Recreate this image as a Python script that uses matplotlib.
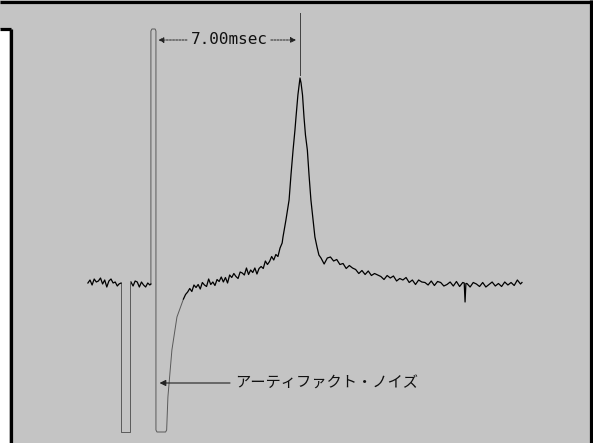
import matplotlib
matplotlib.use("Agg")
import matplotlib.pyplot as plt
from matplotlib.lines import Line2D
from matplotlib.patches import Rectangle

# ---------------- data (time in ms, signal in arbitrary units) ----------------
pre_t = [-3.10, -3.00, -2.90, -2.80, -2.70, -2.60, -2.50, -2.40, -2.30, -2.20,
         -2.10, -2.00, -1.90, -1.80, -1.70, -1.62, -1.52]
pre_v = [0.0, 0.3, -0.2, 0.4, 0.1, 0.2, 0.5, -0.1, 0.3, -0.4,
         0.2, 0.4, 0.0, 0.1, -0.3, -0.1, 0.0]

art1_t = [-1.52, -1.52, -1.10, -1.10]
art1_v = [0.0, -14.9, -14.9, 0.0]

mid_t = [-1.05, -0.95, -0.85, -0.75, -0.65, -0.55, -0.45, -0.35, -0.25, -0.15, -0.10]
mid_v = [0.1, -0.3, 0.2, 0.1, -0.4, 0.1, -0.2, -0.4, 0.0, -0.2, -0.1]

art2_t = [-0.10, -0.10, -0.05, 0.10, 0.14, 0.14, 0.19, 0.60, 0.65, 0.71, 0.90, 1.14, 1.45]
art2_v = [-0.1, 25.2, 25.4, 25.4, 25.2, -14.7, -14.9, -14.9, -14.7, -11.4, -6.7, -3.4, -1.6]

main_t = [1.45, 1.55, 1.65, 1.75, 1.85, 1.95, 2.05, 2.15, 2.25, 2.35,
          2.45, 2.55, 2.65, 2.75, 2.85, 2.95, 3.05, 3.15, 3.25, 3.35,
          3.45, 3.55, 3.65, 3.75, 3.85, 3.95, 4.05, 4.15, 4.25, 4.35,
          4.45, 4.55, 4.65, 4.75, 4.85, 4.95, 5.05, 5.15, 5.25, 5.35,
          5.45, 5.55, 5.65, 5.75, 5.85, 5.95, 6.05, 6.15,
          6.19, 6.33, 6.48, 6.57, 6.67, 6.76, 6.81, 6.90, 6.97, 7.00,
          7.05, 7.12, 7.19, 7.26, 7.35, 7.43, 7.52, 7.62, 7.71, 7.81, 7.90,
          8.00, 8.15, 8.30, 8.45, 8.60, 8.75, 8.90, 9.05, 9.20, 9.35,
          9.50, 9.65, 9.80, 9.95, 10.10, 10.25, 10.40, 10.55, 10.70, 10.85,
          11.00, 11.15, 11.30, 11.45, 11.60, 11.75, 11.90, 12.05, 12.20, 12.35,
          12.50, 12.65, 12.80, 12.95, 13.10, 13.25, 13.40, 13.55, 13.70, 13.85,
          14.00, 14.15, 14.30, 14.45, 14.60, 14.75, 14.82, 14.86, 14.90, 14.95,
          15.10, 15.25, 15.40, 15.55, 15.70, 15.85, 16.00, 16.15, 16.30, 16.45,
          16.60, 16.75, 16.90, 17.05, 17.20, 17.35, 17.50, 17.57]
main_v = [-1.60, -1.15, -0.90, -0.55, -0.85, -0.20, -0.45, -0.15, -0.60, 0.05,
          -0.20, -0.35, 0.40, -0.15, 0.10, -0.25, 0.35, 0.15, 0.60, 0.10,
          0.55, 0.00, 0.80, 0.55, 0.95, 0.65, 0.45, 1.10, 1.00, 0.80,
          1.50, 0.85, 1.30, 1.05, 1.50, 0.90, 1.45, 1.65, 1.45, 2.20,
          1.85, 2.15, 2.65, 2.30, 2.85, 2.65, 3.50, 4.00,
          4.6, 6.3, 8.3, 10.8, 13.3, 15.3, 16.6, 18.8, 20.0, 20.5,
          20.0, 18.8, 16.6, 14.8, 13.3, 10.8, 8.3, 6.3, 4.6, 3.6, 2.8,
          2.50, 1.90, 2.50, 2.60, 2.20, 2.35, 1.85, 1.95, 1.45, 1.75,
          1.50, 1.35, 0.95, 1.25, 0.85, 1.20, 0.75, 0.95, 0.80, 0.65,
          0.35, 0.75, 0.50, 0.70, 0.20, 0.45, 0.30, 0.55, 0.05, 0.30,
          -0.15, 0.30, 0.10, 0.05, -0.20, 0.20, -0.25, 0.15, 0.05, -0.30,
          -0.15, 0.10, -0.30, 0.15, -0.35, 0.05, 0.00, -1.90, -0.05, -0.05,
          -0.40, 0.05, -0.10, -0.35, 0.05, -0.40, -0.15, 0.10, -0.30, -0.05,
          -0.35, 0.10, -0.20, 0.05, -0.25, 0.30, -0.10, 0.05]

interval_label = "7.00msec"
interval_start, interval_end = 0.0, 7.0
artifact_label = "アーティファクト・ノイズ"

# ---------------- figure ----------------
W, H = 593, 443
bg = "#c4c4c4"
fig = plt.figure(figsize=(W / 100, H / 100), dpi=100, facecolor=bg)
ax = fig.add_axes([0, 0, 1, 1])
ax.set_facecolor(bg)
ax.set_xlim(-153 / 21, (W - 153) / 21)
ax.set_ylim((283 - H) / 10, 283 / 10)
ax.axis("off")

def fx(px):
    return px / W

def fy(py):
    return 1 - py / H

# white strip left of the bracket
fig.patches.append(Rectangle((0, 0), fx(9), fy(29), transform=fig.transFigure,
                             facecolor="white", edgecolor="none", zorder=0))
# frame lines
for xs, ys in [([0, 593], [1.5, 1.5]),
               ([0, 11], [28.5, 28.5]),
               ([10.5, 10.5], [28.5, 443]),
               ([590.5, 590.5], [0, 443])]:
    fig.add_artist(Line2D([fx(x) for x in xs], [fy(y) for y in ys],
                          transform=fig.transFigure, color="black", lw=2.3,
                          solid_capstyle="butt"))

# trace
faint = dict(color="#5a5a5a", lw=0.7)
ax.plot(art1_t, art1_v, **faint)
ax.plot(art2_t, art2_v, **faint)
trace = dict(color="black", lw=0.9)
ax.plot(pre_t, pre_v, **trace)
ax.plot(mid_t, mid_v, **trace)
ax.plot(main_t, main_v, **trace)

# marker above peak
ax.plot([interval_end, interval_end], [27.0, 20.8], color="#404040", lw=0.7)

# interval annotation
y_int = 24.3
ax.text(3.62, y_int, interval_label, ha="center", va="center",
        family="DejaVu Sans Mono", fontsize=11.5, color="#111111")
ax.annotate("", xy=(interval_start + 0.12, y_int), xytext=(1.75, y_int),
            arrowprops=dict(arrowstyle="-|>", lw=0.7, color="#222222",
                            linestyle=(0, (2, 1.2)), mutation_scale=8))
ax.annotate("", xy=(interval_end - 0.05, y_int), xytext=(5.48, y_int),
            arrowprops=dict(arrowstyle="-|>", lw=0.7, color="#222222",
                            linestyle=(0, (2, 1.2)), mutation_scale=8))

# artifact annotation
y_art = -10.0
ax.text(3.90, y_art, artifact_label, ha="left", va="center",
        family=["Noto Sans CJK JP", "DejaVu Sans"], fontsize=11, color="#111111")
ax.annotate("", xy=(0.18, y_art), xytext=(3.80, y_art),
            arrowprops=dict(arrowstyle="-|>", lw=0.8, color="#222222",
                            mutation_scale=9))

fig.savefig("out.png", dpi=100, facecolor=bg)
